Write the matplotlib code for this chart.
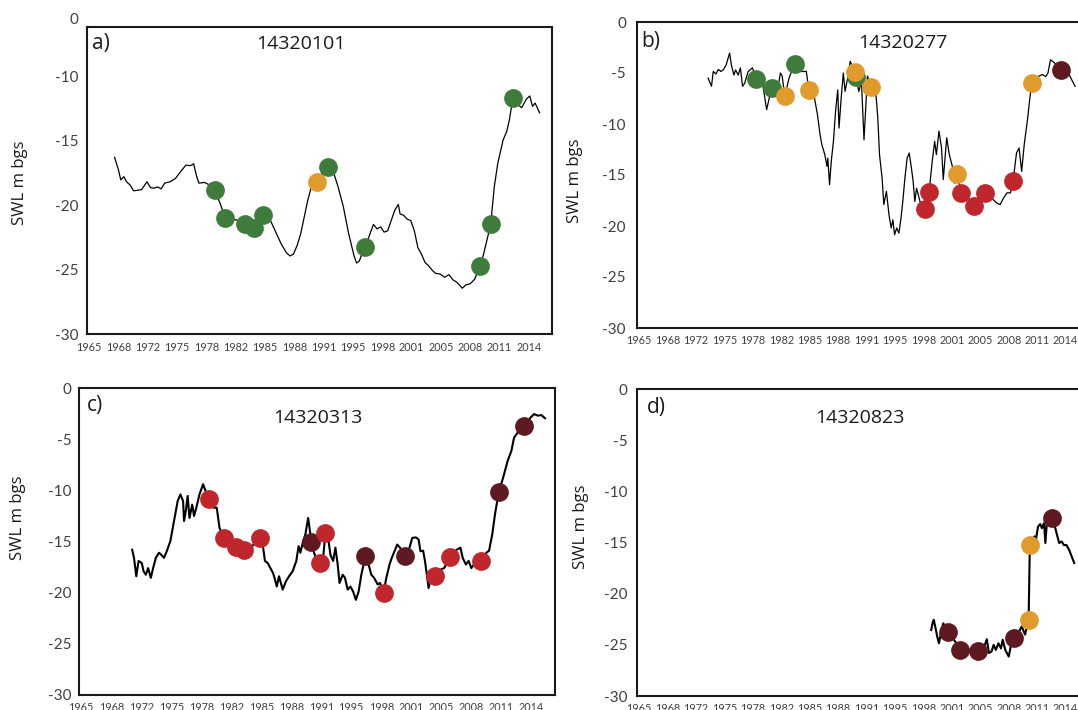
import numpy as np
import matplotlib
matplotlib.use("Agg")
import matplotlib.pyplot as plt

# Date-axis tick labels (evenly spaced ticks every ~3.3 years)
tick_labels = ["1965", "1968", "1972", "1975", "1978", "1982", "1985", "1988",
               "1991", "1995", "1998", "2001", "2005", "2008", "2011", "2014"]

# Marker classes
class_colors = {"G": "#3f7b3b", "O": "#e09b2c", "R": "#c0272d", "M": "#5e1a20"}

# Bore 14320101: (decimal year, SWL m bgs)
a_line = [(1967.85, -16.3), (1968.3, -17.3), (1968.55, -18.05), (1968.9, -17.8), (1969.2, -18.2),
          (1969.6, -18.45), (1970.0, -18.9), (1970.5, -18.85), (1970.9, -18.8), (1971.5, -18.2),
          (1971.9, -18.65), (1972.3, -18.7), (1972.7, -18.6), (1973.1, -18.75), (1973.5, -18.3),
          (1974.1, -18.2), (1974.7, -17.95), (1975.3, -17.4), (1975.9, -16.9), (1976.3, -16.95),
          (1976.55, -16.9), (1976.75, -16.8), (1977.1, -17.8), (1977.35, -18.3), (1978.0, -18.25),
          (1978.55, -18.45), (1979.15, -18.85), (1979.75, -19.9), (1980.3, -21.0), (1981.55, -21.15),
          (1982.55, -21.45), (1983.5, -21.8), (1984.55, -20.75), (1985.4, -21.2), (1986.0, -22.1),
          (1986.6, -23.0), (1987.2, -23.7), (1987.6, -23.95), (1988.0, -23.8), (1988.4, -23.15),
          (1988.8, -22.25), (1989.2, -20.95), (1989.6, -19.65), (1990.0, -18.6), (1990.6, -18.2),
          (1991.2, -17.55), (1991.9, -17.05), (1992.4, -17.25), (1993.0, -18.55), (1993.6, -20.1),
          (1994.2, -22.2), (1994.8, -23.9), (1995.1, -24.5), (1995.4, -24.35), (1995.7, -23.8),
          (1996.1, -23.25), (1996.6, -22.25), (1997.0, -21.5), (1997.4, -21.85), (1997.8, -21.7),
          (1998.2, -22.1), (1998.6, -22.0), (1999.0, -21.2), (1999.4, -20.4), (1999.8, -19.95),
          (2000.0, -20.7), (2000.4, -20.8), (2000.8, -21.1), (2001.2, -21.2), (2001.6, -22.0),
          (2002.0, -23.3), (2002.4, -23.8), (2002.8, -24.45), (2003.2, -24.7), (2003.6, -25.05),
          (2004.0, -25.3), (2004.5, -25.35), (2005.0, -25.6), (2005.5, -25.4), (2005.95, -25.8),
          (2006.4, -26.0), (2007.0, -26.45), (2007.4, -26.2), (2007.9, -26.1), (2008.4, -25.75),
          (2009.0, -24.7), (2009.4, -23.8), (2010.2, -21.5), (2010.6, -18.6), (2011.0, -16.75),
          (2011.6, -14.95), (2012.0, -14.3), (2012.3, -13.4), (2012.7, -11.7), (2013.2, -12.2),
          (2013.7, -12.45), (2014.2, -11.8), (2014.6, -11.55), (2014.9, -12.35), (2015.2, -12.1),
          (2015.7, -12.85)]
a_pts = [(1979.15, -18.85, "G"), (1980.3, -21.0, "G"), (1982.55, -21.45, "G"), (1983.5, -21.8, "G"),
         (1984.55, -20.75, "G"), (1990.6, -18.2, "O"), (1991.9, -17.05, "G"), (1996.1, -23.25, "G"),
         (2009.0, -24.7, "G"), (2010.2, -21.5, "G"), (2012.7, -11.7, "G")]

# Bore 14320277
b_line = [(1973.0, -5.5), (1973.4, -6.3), (1973.6, -4.85), (1973.9, -5.1), (1974.2, -4.65),
          (1974.5, -4.85), (1974.8, -4.65), (1975.1, -4.2), (1975.5, -3.05), (1975.7, -4.2),
          (1976.0, -5.2), (1976.2, -4.7), (1976.5, -5.2), (1976.75, -4.5), (1977.0, -6.3),
          (1977.25, -6.0), (1977.65, -4.85), (1978.15, -4.5), (1978.6, -5.55), (1979.35, -6.15),
          (1979.8, -8.6), (1980.1, -7.45), (1980.45, -6.45), (1981.0, -6.95), (1981.4, -5.0),
          (1981.6, -5.3), (1981.9, -7.3), (1982.4, -5.5), (1983.05, -4.1), (1983.8, -4.85),
          (1984.4, -4.85), (1984.7, -6.65), (1985.35, -7.45), (1985.7, -9.1), (1986.0, -11.05),
          (1986.2, -12.0), (1986.55, -13.0), (1986.8, -14.15), (1986.9, -13.35), (1987.1, -15.95),
          (1987.3, -13.65), (1987.55, -11.7), (1987.8, -8.75), (1988.05, -6.65), (1988.2, -10.4),
          (1988.45, -7.45), (1988.7, -5.0), (1988.9, -6.8), (1989.2, -5.5), (1989.5, -3.85),
          (1990.0, -4.95), (1990.3, -6.0), (1990.5, -6.8), (1990.8, -5.8), (1991.1, -11.55),
          (1991.5, -5.3), (1991.9, -6.4), (1992.4, -6.15), (1992.7, -9.4), (1992.9, -13.0),
          (1993.2, -15.3), (1993.4, -17.9), (1993.7, -16.6), (1994.0, -18.9), (1994.25, -20.2),
          (1994.45, -19.4), (1994.65, -20.85), (1994.9, -20.2), (1995.15, -20.7), (1995.4, -19.2),
          (1995.6, -17.6), (1995.85, -15.3), (1996.1, -13.35), (1996.35, -12.85), (1996.6, -14.3),
          (1996.8, -15.6), (1997.0, -17.6), (1997.2, -16.3), (1997.6, -17.6), (1998.2, -18.3),
          (1998.65, -16.7), (1999.0, -13.8), (1999.3, -11.7), (1999.5, -13.0), (1999.8, -10.7),
          (2000.1, -12.35), (2000.3, -15.45), (2000.7, -11.35), (2001.0, -13.0), (2001.4, -14.3),
          (2001.6, -15.8), (2001.9, -14.9), (2002.4, -16.75), (2003.2, -17.25), (2003.9, -18.05),
          (2005.1, -16.75), (2005.9, -17.25), (2006.5, -17.75), (2006.9, -17.9), (2007.3, -17.25),
          (2007.7, -16.75), (2008.1, -16.75), (2008.4, -15.6), (2008.8, -12.85), (2009.1, -12.35),
          (2009.4, -14.65), (2009.7, -12.0), (2010.1, -9.4), (2010.4, -7.1), (2010.6, -6.0),
          (2011.3, -5.35), (2011.8, -5.15), (2012.2, -5.35), (2012.45, -5.0), (2012.75, -3.7),
          (2013.2, -4.0), (2014.0, -4.7), (2014.6, -5.0), (2014.9, -5.15), (2015.6, -6.3)]
b_pts = [(1978.6, -5.55, "G"), (1980.45, -6.45, "G"), (1981.9, -7.3, "O"), (1983.05, -4.1, "G"),
         (1984.7, -6.65, "O"), (1990.15, -5.35, "G"), (1990.0, -4.95, "O"), (1991.9, -6.4, "O"),
         (1998.2, -18.3, "R"), (1998.65, -16.7, "R"), (2001.9, -14.9, "O"), (2002.4, -16.75, "R"),
         (2003.9, -18.05, "R"), (2005.1, -16.75, "R"), (2008.4, -15.6, "R"), (2010.6, -6.0, "O"),
         (2014.0, -4.7, "M")]

# Bore 14320313
c_line = [(1970.6, -15.8), (1970.8, -16.6), (1971.05, -18.4), (1971.3, -16.9), (1971.65, -17.1),
          (1971.85, -17.9), (1972.1, -18.25), (1972.35, -17.6), (1972.65, -18.55), (1972.9, -17.6),
          (1973.2, -16.6), (1973.55, -16.1), (1973.8, -16.3), (1974.1, -16.6), (1974.4, -15.95),
          (1974.8, -14.95), (1975.2, -13.0), (1975.6, -11.05), (1975.9, -10.4), (1976.2, -11.05),
          (1976.3, -13.0), (1976.5, -12.0), (1976.7, -10.55), (1976.9, -12.7), (1977.2, -11.4),
          (1977.4, -12.5), (1977.65, -11.7), (1978.0, -10.4), (1978.4, -9.4), (1978.6, -9.9),
          (1979.0, -10.8), (1979.6, -11.7), (1979.9, -11.7), (1980.2, -13.65), (1980.65, -14.65),
          (1981.15, -15.3), (1982.0, -15.55), (1982.95, -15.85), (1983.3, -16.6), (1983.7, -15.6),
          (1984.1, -15.1), (1984.7, -14.65), (1985.0, -15.6), (1985.2, -16.9), (1985.5, -17.1),
          (1985.8, -17.6), (1986.1, -18.1), (1986.3, -18.7), (1986.5, -19.4), (1986.75, -18.4),
          (1986.95, -19.05), (1987.15, -19.7), (1987.5, -18.9), (1987.85, -18.4), (1988.25, -17.9),
          (1988.65, -16.9), (1988.9, -15.45), (1989.1, -16.1), (1989.4, -14.95), (1989.65, -14.3),
          (1989.95, -12.7), (1990.1, -13.65), (1990.3, -15.05), (1990.6, -16.1), (1990.9, -16.9),
          (1991.25, -17.1), (1991.6, -16.6), (1991.85, -14.15), (1992.15, -14.65), (1992.4, -16.3),
          (1992.7, -16.9), (1992.95, -15.6), (1993.2, -17.25), (1993.4, -19.05), (1993.75, -18.25),
          (1994.0, -18.55), (1994.3, -19.7), (1994.6, -19.4), (1994.9, -19.9), (1995.2, -20.7),
          (1995.5, -19.9), (1995.8, -18.25), (1996.05, -17.25), (1996.25, -16.4), (1996.6, -17.25),
          (1996.9, -18.25), (1997.2, -18.55), (1997.6, -19.2), (1997.85, -19.05), (1998.25, -20.0),
          (1998.55, -18.55), (1998.9, -17.25), (1999.15, -16.6), (1999.45, -15.95), (1999.75, -15.3),
          (2000.05, -15.6), (2000.65, -16.4), (2001.1, -15.6), (2001.4, -14.65), (2001.8, -14.6),
          (2002.1, -14.8), (2002.3, -15.95), (2002.6, -15.9), (2002.8, -16.9), (2003.0, -18.25),
          (2003.2, -19.55), (2003.5, -18.25), (2003.9, -18.35), (2004.5, -17.75), (2004.9, -17.6),
          (2005.6, -16.5), (2006.3, -15.8), (2006.7, -15.6), (2006.95, -16.6), (2007.3, -17.25),
          (2007.6, -16.9), (2007.9, -17.6), (2008.3, -17.1), (2009.0, -16.9), (2009.55, -16.1),
          (2009.85, -15.9), (2010.2, -14.3), (2010.5, -12.35), (2010.9, -10.2), (2011.4, -8.75),
          (2011.9, -7.1), (2012.3, -6.15), (2012.6, -4.85), (2013.0, -4.35), (2013.7, -3.75),
          (2014.4, -2.9), (2014.8, -2.55), (2015.2, -2.7), (2015.6, -2.65), (2016.0, -2.95)]
c_pts = [(1979.0, -10.8, "R"), (1980.65, -14.65, "R"), (1982.0, -15.55, "R"), (1982.95, -15.85, "R"),
         (1984.7, -14.65, "R"), (1990.3, -15.05, "M"), (1991.25, -17.1, "R"), (1991.85, -14.15, "R"),
         (1996.25, -16.4, "M"), (1998.25, -20.0, "R"), (2000.65, -16.4, "M"), (2003.9, -18.35, "R"),
         (2005.6, -16.5, "R"), (2009.0, -16.9, "R"), (2010.9, -10.2, "M"), (2013.7, -3.75, "M")]

# Bore 14320823
d_line = [(1998.9, -23.55), (1999.05, -22.9), (1999.2, -22.55), (1999.45, -23.55), (1999.6, -24.2),
          (1999.8, -24.85), (2000.1, -23.55), (2000.3, -22.9), (2000.9, -23.7), (2001.7, -24.7),
          (2002.3, -25.55), (2003.3, -25.5), (2004.3, -25.65), (2005.05, -25.2), (2005.35, -24.45),
          (2005.6, -25.8), (2005.9, -25.65), (2006.15, -25.0), (2006.4, -25.5), (2006.7, -24.85),
          (2007.0, -25.35), (2007.2, -24.5), (2007.5, -25.5), (2007.9, -26.15), (2008.2, -24.85),
          (2008.5, -24.35), (2009.0, -23.85), (2009.4, -23.2), (2009.8, -24.0), (2010.0, -23.2),
          (2010.2, -22.55), (2010.25, -20.3), (2010.35, -15.25), (2010.6, -14.75), (2010.9, -14.4),
          (2011.05, -14.75), (2011.3, -13.45), (2011.55, -13.2), (2011.75, -13.6), (2012.0, -13.1),
          (2012.15, -15.05), (2012.35, -12.8), (2012.55, -13.1), (2012.95, -12.6), (2013.35, -13.75),
          (2013.55, -14.4), (2013.75, -15.05), (2014.05, -14.9), (2014.3, -15.25), (2014.6, -15.25),
          (2014.9, -15.7), (2015.2, -16.35), (2015.5, -17.0)]
d_pts = [(2000.9, -23.7, "M"), (2002.3, -25.55, "M"), (2004.3, -25.65, "M"), (2008.5, -24.35, "M"),
         (2010.2, -22.55, "O"), (2010.35, -15.25, "O"), (2012.95, -12.6, "M")]

W, H = 1078, 710
fig = plt.figure(figsize=(W / 100, H / 100), dpi=100)
fig.patch.set_facecolor("white")

TXT = "#404040"
tick_pos = np.linspace(1965.0, 2014.5, len(tick_labels))
XLIM = (1964.75, 2017.1)


def fx(px):
    return px / W


def fy(py):
    return 1 - py / H


panels = [
    dict(line=a_line, pts=a_pts, box=(87, 27, 552, 334), ylim=(-30, -6.2),
         yticks=[-30, -25, -20, -15, -10], ylbl=["-30", "-25", "-20", "-15", "-10"],
         top_label=True, letter="a)", letter_xy=(92, 43), title="14320101", title_xy=(301, 44),
         ylabel_xy=(20, 183), lw=0.9, ypad=6, xpad=5.5),
    dict(line=b_line, pts=b_pts, box=(637, 22, 1088, 328), ylim=(-30, 0),
         yticks=[-30, -25, -20, -15, -10, -5, 0], ylbl=["-30", "-25", "-20", "-15", "-10", "-5", "0"],
         top_label=False, letter="b)", letter_xy=(641, 42), title="14320277", title_xy=(903, 43),
         ylabel_xy=(575, 181), lw=0.9, ypad=8, xpad=5),
    dict(line=c_line, pts=c_pts, box=(79, 388, 555, 695), ylim=(-30, 0),
         yticks=[-30, -25, -20, -15, -10, -5, 0], ylbl=["-30", "-25", "-20", "-15", "-10", "-5", "0"],
         top_label=False, letter="c)", letter_xy=(87, 406), title="14320313", title_xy=(318, 418),
         ylabel_xy=(18, 518), lw=1.5, ypad=5.5, xpad=5),
    dict(line=d_line, pts=d_pts, box=(637, 389, 1088, 696), ylim=(-30, 0),
         yticks=[-30, -25, -20, -15, -10, -5, 0], ylbl=["-30", "-25", "-20", "-15", "-10", "-5", "0"],
         top_label=False, letter="d)", letter_xy=(647, 408), title="14320823", title_xy=(860, 418),
         ylabel_xy=(581, 527), lw=1.5, ypad=7, xpad=5),
]

for p in panels:
    l, t, r, b = p["box"]
    ax = fig.add_axes([fx(l), fy(b), (r - l) / W, (b - t) / H])
    ax.set_xlim(*XLIM)
    ax.set_ylim(*p["ylim"])

    yrs, lvl = zip(*p["line"])
    ax.plot(yrs, lvl, color="black", lw=p["lw"], zorder=2, solid_joinstyle="round")

    for yr, v, cls in p["pts"]:
        ax.plot(yr, v, "o", ms=13.5, color=class_colors[cls], mec="none", zorder=3)

    ax.set_xticks(tick_pos)
    ax.set_xticklabels(tick_labels, fontsize=7.8, color=TXT, family="Lato")
    yt, yl = list(p["yticks"]), list(p["ylbl"])
    if p["top_label"]:
        # the upper end of this axis carries a "0" label
        yt.append(p["ylim"][1])
        yl.append("0")
    ax.set_yticks(yt)
    ax.set_yticklabels(yl, fontsize=11, color=TXT, family="Lato")
    ax.set_ylim(*p["ylim"])
    ax.tick_params(axis="both", length=0)
    ax.tick_params(axis="y", pad=p["ypad"])
    ax.tick_params(axis="x", pad=p["xpad"])
    for s in ax.spines.values():
        s.set_linewidth(1.5)
        s.set_color("#1a1a1a")
    if p["top_label"]:
        lab = ax.get_yticklabels()[-1]
        lab.set_y(p["ylim"][1])
        lab.set_va("bottom")

    fig.text(fx(p["letter_xy"][0]), fy(p["letter_xy"][1]), p["letter"], fontsize=15,
             family="Open Sans", color="#1a1a1a", ha="left", va="center")
    fig.text(fx(p["title_xy"][0]), fy(p["title_xy"][1]), p["title"], fontsize=14,
             family="Open Sans", color="#1a1a1a", ha="center", va="center")
    fig.text(fx(p["ylabel_xy"][0]), fy(p["ylabel_xy"][1]), "SWL m bgs", fontsize=12,
             family="Open Sans", color="#1a1a1a", rotation=90, ha="center", va="center")

fig.savefig("out.png", dpi=100, facecolor="white")
